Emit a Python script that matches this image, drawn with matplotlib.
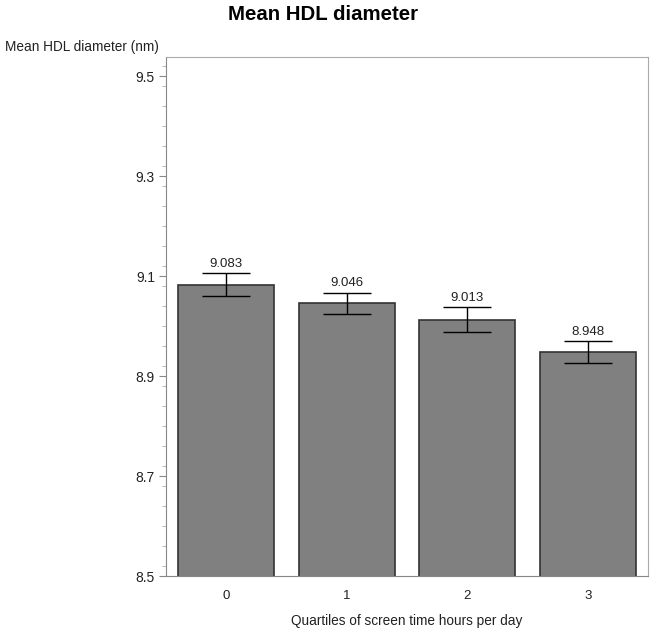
import matplotlib
matplotlib.use("Agg")
import matplotlib.pyplot as plt
from matplotlib.ticker import MultipleLocator

categories = ["0", "1", "2", "3"]
means = [9.083, 9.046, 9.013, 8.948]
err_lower = [0.023, 0.021, 0.025, 0.022]
err_upper = [0.023, 0.021, 0.025, 0.022]
labels = ["9.083", "9.046", "9.013", "8.948"]

plt.rcParams['font.family'] = ['Liberation Sans', 'DejaVu Sans']

fig = plt.figure(figsize=(6.53, 6.35), dpi=100)
ax = fig.add_axes([166/653, 1 - 576/635, (648-166)/653, (576-57)/635])

x = list(range(len(categories)))
ax.bar(x, means, width=0.8, color="#808080", edgecolor="#333333", linewidth=1.2, zorder=2)
ax.errorbar(x, means, yerr=[err_lower, err_upper], fmt="none", ecolor="black",
            elinewidth=1.0, capsize=17, capthick=1.0, zorder=3)
for xi, m, eu, lab in zip(x, means, err_upper, labels):
    ax.text(xi, m + eu + 0.006, lab, ha="center", va="bottom", fontsize=9.5, color="#222222")

ax.set_xlim(-0.5, 3.5)
ax.set_ylim(8.5, 9.538)
ax.set_xticks(x)
ax.set_xticklabels(categories, fontsize=9.5)
ax.set_yticks([8.5, 8.7, 8.9, 9.1, 9.3, 9.5])
ax.set_yticklabels(["8.5", "8.7", "8.9", "9.1", "9.3", "9.5"], fontsize=10)
ax.yaxis.set_minor_locator(MultipleLocator(0.04))
ax.tick_params(axis="y", which="major", length=5, pad=3, color="#888888", labelcolor="#222222")
ax.tick_params(axis="y", which="minor", length=3, color="#aaaaaa")
ax.tick_params(axis="x", which="major", length=0, pad=10, labelcolor="#222222")
for s in ["top", "right"]:
    ax.spines[s].set_color("#aaaaaa")
for s in ["left", "bottom"]:
    ax.spines[s].set_color("#888888")

fig.text(323/653, 1 - 15/635, "Mean HDL diameter", ha="center", va="center",
         fontsize=14.7, fontweight="bold")
fig.text(5/653, 1 - 47/635, "Mean HDL diameter (nm)", ha="left", va="center", fontsize=9.8, color="#222222")
fig.text(407/653, 1 - 621/635, "Quartiles of screen time hours per day", ha="center", va="center",
         fontsize=9.8, color="#222222")

fig.savefig("out.png", dpi=100)
